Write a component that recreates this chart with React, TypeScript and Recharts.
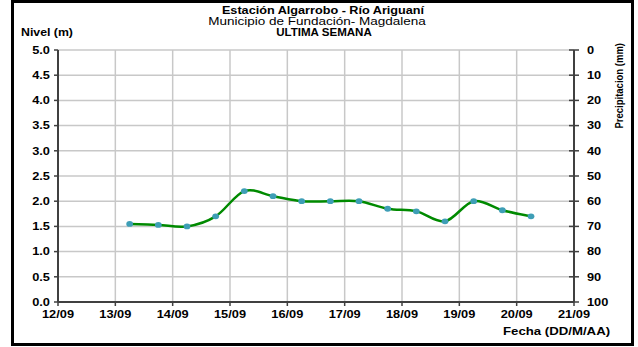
import { LineChart, Line, XAxis, YAxis, CartesianGrid } from "recharts";

// lecturas cada 12 h (dia del mes, con fraccion)
const fechas = [13.25, 13.75, 14.25, 14.75, 15.25, 15.75, 16.25, 16.75, 17.25, 17.75, 18.25, 18.75, 19.25, 19.75, 20.25];
const niveles = [1.55, 1.53, 1.5, 1.7, 2.2, 2.1, 2.0, 2.0, 2.0, 1.85, 1.8, 1.6, 2.0, 1.82, 1.7];
// sin lluvia registrada en la semana
const precipitacion = [0, 0, 0, 0, 0, 0, 0, 0, 0, 0, 0, 0, 0, 0, 0];

const diasTicks = [12, 13, 14, 15, 16, 17, 18, 19, 20, 21];
const diasLabels = ["12/09", "13/09", "14/09", "15/09", "16/09", "17/09", "18/09", "19/09", "20/09", "21/09"];
const nivelTicks = [0, 0.5, 1, 1.5, 2, 2.5, 3, 3.5, 4, 4.5, 5];
const precipTicks = [0, 10, 20, 30, 40, 50, 60, 70, 80, 90, 100];

const data = fechas.map((f, i) => ({ fecha: f, nivel: niveles[i], precip: precipitacion[i] }));

const AXIS = "#404040";
const FONT = "'Liberation Sans', Arial, sans-serif";
const SX = 1.22; // el original esta estirado a lo ancho
const tickStyle = { fill: "#000", fontSize: 10.5, fontWeight: "bold", fontFamily: FONT };

// suavizado tipo Excel (Catmull-Rom)
const curvaSuave = (context: any) => {
  let pts: number[][] = [];
  return {
    areaStart() {},
    areaEnd() {},
    lineStart() {
      pts = [];
    },
    lineEnd() {
      const n = pts.length;
      if (!n) return;
      context.moveTo(pts[0][0], pts[0][1]);
      for (let i = 0; i < n - 1; i++) {
        const p0 = pts[Math.max(0, i - 1)];
        const p1 = pts[i];
        const p2 = pts[i + 1];
        const p3 = pts[Math.min(n - 1, i + 2)];
        context.bezierCurveTo(
          p1[0] + (p2[0] - p0[0]) / 6,
          p1[1] + (p2[1] - p0[1]) / 6,
          p2[0] - (p3[0] - p1[0]) / 6,
          p2[1] - (p3[1] - p1[1]) / 6,
          p2[0],
          p2[1]
        );
      }
    },
    point(x: number, y: number) {
      pts.push([+x, +y]);
    },
  };
};

const FechaTick = (props: any) => {
  const { x, y, payload } = props;
  return (
    <text transform={`translate(${x},${y}) scale(${SX},1)`} dy="0.71em" textAnchor="middle" {...tickStyle}>
      {diasLabels[diasTicks.indexOf(payload.value)]}
    </text>
  );
};

const NivelTick = (props: any) => {
  const { x, y, payload } = props;
  return (
    <text transform={`translate(${x},${y}) scale(${SX},1)`} dy="0.355em" textAnchor="end" {...tickStyle}>
      {Number(payload.value).toFixed(1)}
    </text>
  );
};

const PrecipTick = (props: any) => {
  const { x, y, payload } = props;
  const ax = x - 13;
  return (
    <g>
      <line x1={ax - 5} x2={ax + 5} y1={y} y2={y} stroke={AXIS} strokeWidth={1.5} />
      <text transform={`translate(${x},${y}) scale(${SX},1)`} dy="0.355em" textAnchor="start" {...tickStyle}>
        {payload.value}
      </text>
    </g>
  );
};

const Punto = (props: any) => {
  const { cx, cy } = props;
  if (cx == null || cy == null) return null;
  return <ellipse cx={cx} cy={cy} rx={3.4} ry={2.9} fill="#3e9eb6" />;
};

const txt = (extra: any) => ({ position: "absolute" as const, lineHeight: 1, whiteSpace: "nowrap" as const, ...extra });

export default function App() {
  return (
    <div style={{ position: "absolute", left: 0, top: 0, width: 638, height: 347, background: "#fff", fontFamily: FONT }}>
      <div
        style={{
          position: "absolute",
          left: 11,
          top: 0,
          width: 623,
          height: 346,
          border: "3px solid #000",
          boxSizing: "border-box",
        }}
      />
      <div style={{ position: "absolute", left: 0, top: 0 }}>
        <LineChart width={638} height={347} data={data} margin={{ top: 50, right: 20, bottom: 15, left: 18 }}>
          <CartesianGrid yAxisId="nivel" stroke="#c8c8c8" strokeWidth={1.5} />
          <XAxis
            dataKey="fecha"
            type="number"
            domain={[12, 21]}
            ticks={diasTicks}
            height={30}
            axisLine={{ stroke: AXIS, strokeWidth: 2 }}
            tickLine={{ stroke: AXIS, strokeWidth: 1.5 }}
            tickSize={4}
            tickMargin={5}
            tick={<FechaTick />}
            interval={0}
          />
          <YAxis
            yAxisId="nivel"
            domain={[0, 5]}
            ticks={nivelTicks}
            width={40}
            axisLine={{ stroke: AXIS, strokeWidth: 2 }}
            tickLine={{ stroke: AXIS, strokeWidth: 1.5 }}
            tickSize={4}
            tickMargin={4}
            tick={<NivelTick />}
            interval={0}
          />
          <YAxis
            yAxisId="precip"
            orientation="right"
            reversed
            domain={[0, 100]}
            ticks={precipTicks}
            width={44}
            axisLine={{ stroke: AXIS, strokeWidth: 2 }}
            tickLine={false}
            tickSize={5}
            tickMargin={8}
            tick={<PrecipTick />}
            interval={0}
          />
          <Line
            yAxisId="precip"
            dataKey="precip"
            stroke="none"
            dot={false}
            activeDot={false}
            legendType="none"
            isAnimationActive={false}
          />
          <Line
            yAxisId="nivel"
            dataKey="nivel"
            type={curvaSuave as any}
            stroke="#008a00"
            strokeWidth={2.5}
            dot={<Punto />}
            isAnimationActive={false}
          />
        </LineChart>
      </div>
      <div style={txt({ left: 123, width: 400, top: 5.3, textAlign: "center", fontSize: 11, fontWeight: "bold", transform: "scaleX(1.15)" })}>
        Estación Algarrobo - Río Ariguaní
      </div>
      <div style={txt({ left: 117, width: 400, top: 17, textAlign: "center", fontSize: 10, transform: "scaleX(1.35)" })}>
        Municipio de Fundación- Magdalena
      </div>
      <div style={txt({ left: 124, width: 400, top: 27.4, textAlign: "center", fontSize: 10.5, fontWeight: "bold", transform: "scaleX(1.1)" })}>
        ULTIMA SEMANA
      </div>
      <div style={txt({ left: 21, top: 27.6, fontSize: 10, fontWeight: "bold", transform: "scaleX(1.23)", transformOrigin: "left center" })}>
        Nivel (m)
      </div>
      <div style={txt({ left: 503, top: 325.6, fontSize: 11, fontWeight: "bold", transform: "scaleX(1.2)", transformOrigin: "left center" })}>
        Fecha (DD/M/AA)
      </div>
      <div
        style={txt({
          left: 559,
          top: 81.25,
          width: 120,
          textAlign: "center",
          fontSize: 9.5,
          fontWeight: "bold",
          transform: "scaleX(1.2) rotate(-90deg)",
        })}
      >
        Precipitacion (mm)
      </div>
    </div>
  );
}
